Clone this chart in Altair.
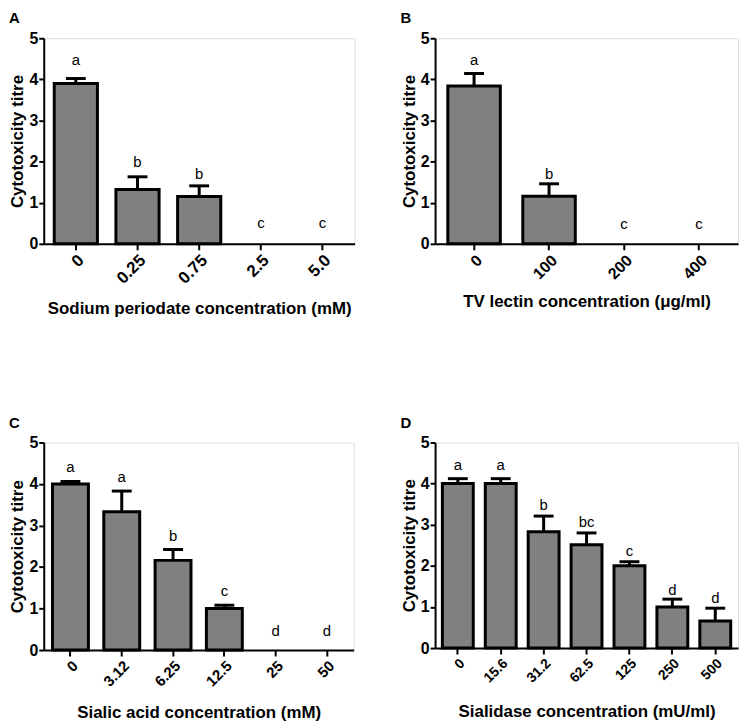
import altair as alt
import pandas as pd

FONT = "Liberation Sans"

# Panel A
a_cats = ["0", "0.25", "0.75", "2.5", "5.0"]
a_mean = [3.90, 1.32, 1.15, 0, 0]
a_err = [0.12, 0.31, 0.26, 0, 0]
a_letters = ["a", "b", "b", "c", "c"]
a_letter_y = [4.47, 1.98, 1.69, 0.51, 0.51]

# Panel B
b_cats = ["0", "100", "200", "400"]
b_mean = [3.84, 1.16, 0, 0]
b_err = [0.30, 0.30, 0, 0]
b_letters = ["a", "b", "c", "c"]
b_letter_y = [4.47, 1.70, 0.48, 0.48]

# Panel C
c_cats = ["0", "3.12", "6.25", "12.5", "25", "50"]
c_mean = [4.00, 3.33, 2.16, 1.00, 0, 0]
c_err = [0.06, 0.50, 0.26, 0.08, 0, 0]
c_letters = ["a", "a", "b", "c", "d", "d"]
c_letter_y = [4.41, 4.16, 2.74, 1.43, 0.45, 0.45]

# Panel D
d_cats = ["0", "15.6", "31.2", "62.5", "125", "250", "500"]
d_mean = [4.00, 4.00, 2.83, 2.51, 2.00, 1.00, 0.66]
d_err = [0.12, 0.12, 0.38, 0.29, 0.10, 0.19, 0.31]
d_letters = ["a", "a", "b", "bc", "c", "d", "d"]
d_letter_y = [4.44, 4.44, 3.48, 3.06, 2.35, 1.42, 1.22]


def panel(label, cats, mean, err, letters, letter_y, xtitle, w, h,
          xlabel_size, xtitle_pad, pad_inner=0.3):
    df = pd.DataFrame({
        "cat": cats, "mean": mean, "err": err,
        "letter": letters, "ly": letter_y,
    })
    df["upper"] = df["mean"] + df["err"]

    xscale = alt.Scale(domain=cats, paddingInner=pad_inner, paddingOuter=0.17)
    xaxis = alt.Axis(
        title=xtitle, labelAngle=-45, labelFontSize=xlabel_size,
        labelFontWeight="bold", labelFont=FONT, labelColor="black",
        titleFont=FONT, titleFontSize=17, titleFontWeight="bold",
        titleColor="black", domainColor="black", domainWidth=2,
        tickColor="black", tickWidth=2, tickSize=6, labelPadding=2,
        titlePadding=xtitle_pad, grid=False,
    )
    yscale = alt.Scale(domain=[0, 5], nice=False)
    yaxis = alt.Axis(
        title="Cytotoxicity titre", values=[0, 1, 2, 3, 4, 5], labelFontSize=16,
        labelFontWeight="bold", labelFont=FONT, labelColor="black",
        titleFont=FONT, titleFontSize=17, titleFontWeight="bold",
        titleColor="black", domainColor="black", domainWidth=2,
        tickColor="black", tickWidth=2, tickSize=5, labelPadding=1,
        titlePadding=2, grid=False,
    )
    x = alt.X("cat:N", sort=cats, scale=xscale, axis=xaxis)

    base = alt.Chart(df)
    bars = base.transform_filter("datum.mean > 0").mark_bar(
        fill="#808080", stroke="black", strokeWidth=3
    ).encode(x=x, y=alt.Y("mean:Q", scale=yscale, axis=yaxis))
    rule = base.transform_filter("datum.err > 0").mark_rule(
        color="black", strokeWidth=3
    ).encode(x=x, y=alt.Y("mean:Q", scale=yscale, axis=yaxis), y2="upper:Q")
    cap = base.transform_filter("datum.err > 0").mark_tick(
        color="black", size=20, thickness=3, opacity=1
    ).encode(x=x, y=alt.Y("upper:Q", scale=yscale, axis=yaxis))
    text = base.mark_text(
        font=FONT, fontSize=15, color="black", baseline="middle"
    ).encode(x=x, y=alt.Y("ly:Q", scale=yscale, axis=yaxis), text="letter:N")

    return alt.layer(bars, rule, cap, text).properties(
        width=w, height=h,
        title=alt.TitleParams(
            text=label, anchor="start", font=FONT, fontSize=15,
            fontWeight="bold", color="black", offset=4,
        ),
    )


pA = panel("A", a_cats, a_mean, a_err, a_letters, a_letter_y,
           "Sodium periodate concentration (mM)", 313, 207, 17, 14)
pB = panel("B", b_cats, b_mean, b_err, b_letters, b_letter_y,
           "TV lectin concentration (\u03bcg/ml)", 305, 207, 16, 12)
pC = panel("C", c_cats, c_mean, c_err, c_letters, c_letter_y,
           "Sialic acid concentration (mM)", 312, 209, 15, 16)
pD = panel("D", d_cats, d_mean, d_err, d_letters, d_letter_y,
           "Sialidase concentration (mU/ml)", 305, 207, 14, 19, 0.28)

chart = alt.concat(pA, pB, pC, pD, columns=2, spacing={"row": 98, "column": 44}).properties(
    padding=0
).configure_view(stroke=None).configure(background="white")

chart.save("out.html", embed_options={"renderer": "svg", "actions": False})
